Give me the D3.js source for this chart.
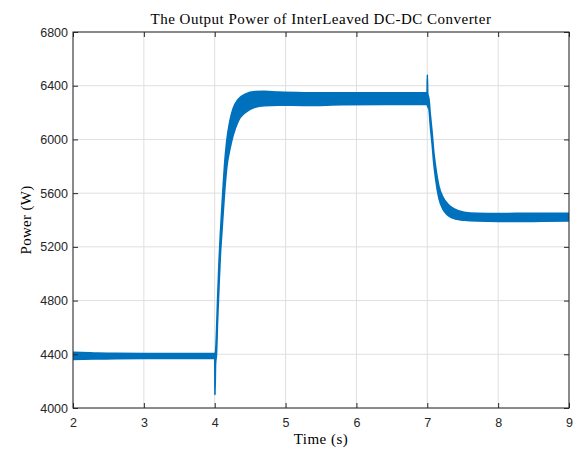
<!DOCTYPE html>
<html>
<head>
<meta charset="utf-8">
<script src="https://cdn.jsdelivr.net/npm/d3@7"></script>
<style>
  body { margin: 0; background: #fff; }
  .tick text { font-family: 'Liberation Sans', Arial, sans-serif; font-size: 12.5px; fill: #262626; }
  .serif { font-family: 'Liberation Serif', 'DejaVu Serif', serif; fill: #000; }
</style>
</head>
<body>
<svg id="chart" width="577" height="449"></svg>
<script>
// Values (time in s, power envelope in W)
const time = [
    2.00, 2.30, 2.60, 3.00, 3.50, 3.998,
    4.001, 4.004, 4.012, 4.025, 4.040, 4.060, 4.080, 4.100, 4.120, 4.140, 4.170, 4.215,
    4.260, 4.330, 4.430, 4.570, 4.700, 4.900, 5.270, 5.800, 6.400, 6.997,
    7.001, 7.006, 7.024, 7.043, 7.071, 7.090, 7.118, 7.165, 7.226, 7.280, 7.340, 7.420, 7.520,
    7.700, 8.000, 8.500, 9.000
];
const powerMax = [
    4414, 4410, 4407, 4406, 4406, 4406,
    4406, 4404, 4420, 4560, 4800, 5080, 5300, 5480, 5660, 5820, 5990, 6140,
    6230, 6298, 6336, 6356, 6358, 6352, 6348, 6347, 6347, 6347,
    6480, 6345, 6300, 6185, 6035, 5915, 5795, 5650, 5565, 5525, 5495, 5472, 5458,
    5450, 5448, 5450, 5450
];
const powerMin = [
    4362, 4365, 4368, 4369, 4369, 4369,
    4368, 4100, 4330, 4400, 4640, 4900, 5140, 5300, 5460, 5610, 5790, 5930,
    6030, 6135, 6200, 6240, 6252, 6255, 6253, 6258, 6260, 6260,
    6255, 6245, 6225, 6100, 5950, 5830, 5705, 5560, 5475, 5440, 5418, 5405, 5398,
    5392, 5390, 5390, 5392
];
const xTicks = [2, 3, 4, 5, 6, 7, 8, 9];
const yTicks = [4000, 4400, 4800, 5200, 5600, 6000, 6400, 6800];

const data = time.map((t, i) => ({ t: t, hi: powerMax[i], lo: powerMin[i] }));

const margin = {top: 32, right: 8, bottom: 41, left: 73},
    width = 577 - margin.left - margin.right,
    height = 449 - margin.top - margin.bottom;

const svg = d3.select('#chart');
const g = svg.append('g')
    .attr('transform', 'translate(' + margin.left + ',' + margin.top + ')');

const xScale = d3.scaleLinear().domain([2, 9]).range([0, width]);
const yScale = d3.scaleLinear().domain([4000, 6800]).range([height, 0]);

// Grid
g.append('g')
    .selectAll('line')
    .data(xTicks)
    .enter().append('line')
    .attr('x1', d => xScale(d)).attr('x2', d => xScale(d))
    .attr('y1', 0).attr('y2', height)
    .attr('stroke', '#dfdfdf').attr('stroke-width', 1);
g.append('g')
    .selectAll('line')
    .data(yTicks)
    .enter().append('line')
    .attr('x1', 0).attr('x2', width)
    .attr('y1', d => yScale(d)).attr('y2', d => yScale(d))
    .attr('stroke', '#dfdfdf').attr('stroke-width', 1);

// Signal band
g.append('clipPath').attr('id', 'clip')
    .append('rect').attr('width', width).attr('height', height);

const band = d3.area()
    .curve(d3.curveMonotoneX)
    .x(d => xScale(d.t))
    .y0(d => yScale(d.lo))
    .y1(d => yScale(d.hi));

g.append('path')
    .attr('clip-path', 'url(#clip)')
    .attr('d', band(data))
    .attr('fill', '#0072BD')
    .attr('stroke', '#0072BD')
    .attr('stroke-width', 1.6)
    .attr('stroke-linejoin', 'round');

// Axes (ticks inside, box all round)
const axisColor = '#262626';
const xAxis = g.append('g')
    .attr('transform', `translate(0,${height})`)
    .call(d3.axisBottom(xScale).tickValues(xTicks).tickSizeInner(-5).tickSizeOuter(0).tickPadding(10).tickFormat(d3.format('d')));
const yAxis = g.append('g')
    .call(d3.axisLeft(yScale).tickValues(yTicks).tickSizeInner(-5).tickSizeOuter(0).tickPadding(5).tickFormat(d3.format('d')));
const xTop = g.append('g')
    .call(d3.axisTop(xScale).tickValues(xTicks).tickSizeInner(-5).tickSizeOuter(0).tickFormat(''));
const yRight = g.append('g')
    .attr('transform', `translate(${width},0)`)
    .call(d3.axisRight(yScale).tickValues(yTicks).tickSizeInner(-5).tickSizeOuter(0).tickFormat(''));

[xAxis, yAxis, xTop, yRight].forEach(a => {
    a.selectAll('path, line').attr('stroke', axisColor);
    a.select('.domain').remove();
});

g.append('rect')
    .attr('width', width).attr('height', height)
    .attr('fill', 'none')
    .attr('stroke', axisColor)
    .attr('stroke-width', 1);

// Labels
svg.append('text')
    .attr('class', 'serif')
    .attr('x', margin.left + width / 2)
    .attr('y', 24)
    .attr('text-anchor', 'middle')
    .style('font-size', '15px')
    .style('letter-spacing', '0.5px')
    .text('The Output Power of InterLeaved DC-DC Converter');

svg.append('text')
    .attr('class', 'serif')
    .attr('x', margin.left + width / 2)
    .attr('y', 444)
    .attr('text-anchor', 'middle')
    .style('font-size', '15px')
    .style('letter-spacing', '0.5px')
    .text('Time (s)');

svg.append('text')
    .attr('class', 'serif')
    .attr('transform', 'rotate(-90)')
    .attr('x', -(margin.top + height / 2))
    .attr('y', 31)
    .attr('text-anchor', 'middle')
    .style('font-size', '15px')
    .style('letter-spacing', '0.3px')
    .text('Power (W)');
</script>
</body>
</html>
